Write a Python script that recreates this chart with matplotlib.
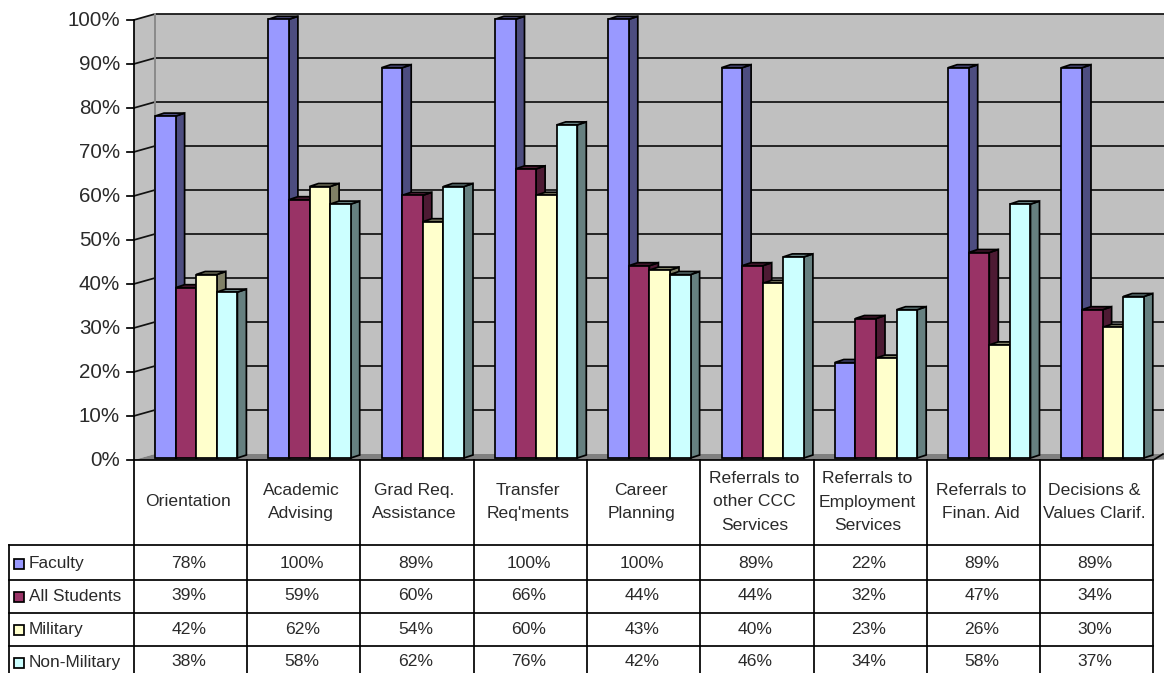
"""Student services chart, Excel style 3D columns with a data table."""
import matplotlib
matplotlib.use("Agg")
import matplotlib.pyplot as plt
from matplotlib.patches import Polygon, Rectangle

plt.rcParams["font.family"] = ["Liberation Sans", "DejaVu Sans"]

categories = ["Orientation", "Academic\nAdvising", "Grad Req.\nAssistance",
              "Transfer\nReq'ments", "Career\nPlanning", "Referrals to\nother CCC\nServices",
              "Referrals to\nEmployment\nServices", "Referrals to\nFinan. Aid",
              "Decisions &\nValues Clarif."]
series_names = ["Faculty", "All Students", "Military", "Non-Military"]
faculty = [78, 100, 89, 100, 100, 89, 22, 89, 89]
all_students = [39, 59, 60, 66, 44, 44, 32, 47, 34]
military = [42, 62, 54, 60, 43, 40, 23, 26, 30]
non_military = [38, 58, 62, 76, 42, 46, 34, 58, 37]
y_ticks = [0, 10, 20, 30, 40, 50, 60, 70, 80, 90, 100]

front_colors = ["#9999FF", "#993366", "#FFFFCC", "#CCFFFF"]
side_colors = ["#4D4D80", "#4D1A33", "#808066", "#668080"]

W, H = 1164, 673
X0, CAT_W = 133.7, 113.3     # left edge of plot, width of a category (px)
Y0, PCT = 460.0, 4.4         # y of 0%, px per percent
LW = 1.25
TXT = "#2a2a2a"

fig = plt.figure(figsize=(W / 100, H / 100), dpi=100)
ax = fig.add_axes([0, 0, 1, 1])
ax.set_xlim(-X0 / CAT_W, (W - X0) / CAT_W)
ax.set_ylim((Y0 - H) / PCT, Y0 / PCT)
ax.axis("off")

px = fig.add_axes([0, 0, 1, 1], zorder=2)  # table and text, in pixels
px.set_xlim(0, W)
px.set_ylim(H, 0)
px.axis("off")
px.patch.set_alpha(0)

n = len(categories)
dx_wall, dy_wall = 21.3 / CAT_W, 6 / PCT
dx_bar, dy_bar = 9 / CAT_W, 3 / PCT
bar_w, bar_start = 20.6 / CAT_W, 21.3 / CAT_W
base = 0.7 / PCT
floor_base = 2 / PCT
x_end = (W - X0) / CAT_W


def poly(points, fc, ec="black", lw=LW, z=1):
    ax.add_patch(Polygon(points, closed=True, fc=fc, ec=ec, lw=lw, zorder=z, joinstyle="miter"))


# walls and floor
poly([(dx_wall, dy_wall), (x_end + 1, dy_wall), (x_end + 1, 100 + dy_wall), (dx_wall, 100 + dy_wall)],
     "#C0C0C0", ec="none", z=1)
poly([(0, 0), (dx_wall, dy_wall), (dx_wall, 100 + dy_wall), (0, 100)], "#C0C0C0", ec="none", z=1)
poly([(0, 0), (dx_wall, dy_wall), (x_end + 1, dy_wall), (n, 0)], "#808080", ec="none", z=1)
for t in y_ticks[1:]:
    ax.plot([0, dx_wall, x_end], [t, t + dy_wall, t + dy_wall], color="#111111", lw=LW, zorder=2)
ax.plot([dx_wall, dx_wall], [dy_wall, 100 + dy_wall], color="#8a8a8a", lw=1.4, zorder=2)
ax.plot([n, n + dx_wall * 0.45], [0, dy_wall], color="black", lw=LW, zorder=2)

# columns, left to right so each front covers the side before it
all_series = [faculty, all_students, military, non_military]
for i in range(n):
    for s, values in enumerate(all_series):
        v = values[i] + base
        x1 = i + bar_start + s * bar_w
        x2 = x1 + bar_w
        poly([(x2, floor_base), (x2 + dx_bar, floor_base + dy_bar), (x2 + dx_bar, v + dy_bar), (x2, v)],
             side_colors[s], z=3)
        poly([(x1, v), (x1 + dx_bar, v + dy_bar), (x2 + dx_bar, v + dy_bar), (x2, v)],
             side_colors[s], z=3)
        poly([(x1, floor_base), (x2, floor_base), (x2, v), (x1, v)], front_colors[s], z=3)

# axis line and ticks
ax.plot([0, 0], [0, 100], color="black", lw=LW, zorder=4)
ax.plot([0, n], [0, 0], color="black", lw=LW, zorder=4)
for t in y_ticks:
    ax.plot([-6.5 / CAT_W, 0], [t, t], color="black", lw=LW, zorder=4)
    px.text(120, Y0 - t * PCT + 1, f"{t}%", ha="right", va="center", fontsize=14.8, color=TXT)

# data table
row_y = [544.5, 579.5, 612.5, 645.5]
row_mid = [563, 596, 629, 662]
key_mid = [564, 597, 630, 663]
for y in row_y:
    px.plot([8.5, X0 + n * CAT_W], [y, y], color="black", lw=LW)
px.plot([8.5, 8.5], [row_y[0], H], color="black", lw=LW)
for i in range(n + 1):
    x = X0 + i * CAT_W
    px.plot([x, x], [Y0, H], color="black", lw=LW)
for i, label in enumerate(categories):
    px.text(X0 + (i + 0.5) * CAT_W - 2.5, 502, label, ha="center", va="center", fontsize=12.6,
            linespacing=1.7, color=TXT)
    for s, values in enumerate(all_series):
        px.text(X0 + (i + 0.5) * CAT_W - 1.5, row_mid[s], f"{values[i]}%", ha="center", va="center",
                fontsize=12.6, color=TXT)
for s, name in enumerate(series_names):
    px.add_patch(Rectangle((13.5, key_mid[s] - 5), 10, 10, fc=front_colors[s], ec="black", lw=LW))
    px.text(29, key_mid[s] - 0.5, name, ha="left", va="center", fontsize=12.4, color=TXT)

fig.savefig("out.png", dpi=100)
plt.close(fig)
